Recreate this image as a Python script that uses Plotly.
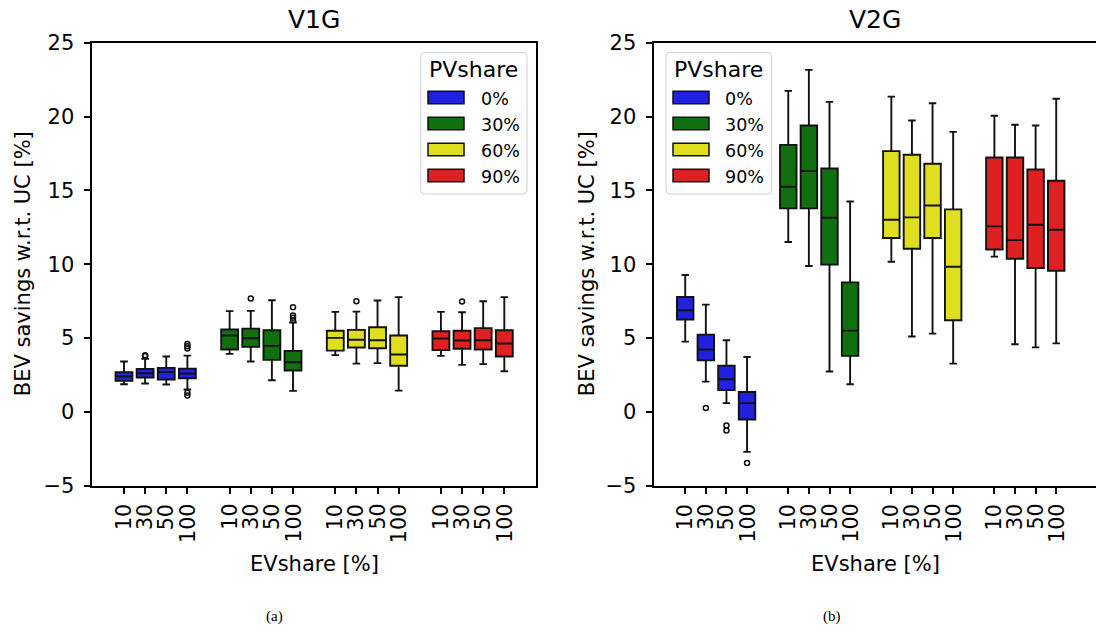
import plotly.graph_objects as go

# ---------------------------------------------------------------- data
EV_SHARES = ["10", "30", "50", "100"]          # tick labels inside each group
PV_SHARES = ["0%", "30%", "60%", "90%"]        # legend entries / groups
COLORS = ["#2020df", "#107010", "#dfdf20", "#df2020"]

# V1G: per PV share, one value per EV share
v1g_q1 = [[2.10, 2.33, 2.19, 2.28], [4.22, 4.40, 3.52, 2.80],
          [4.15, 4.36, 4.31, 3.12], [4.18, 4.27, 4.22, 3.75]]
v1g_med = [[2.39, 2.62, 2.69, 2.60], [5.17, 4.99, 4.47, 3.36],
           [5.01, 4.88, 4.85, 3.88], [4.97, 4.83, 4.85, 4.63]]
v1g_q3 = [[2.69, 2.91, 2.98, 2.93], [5.58, 5.64, 5.53, 4.13],
          [5.49, 5.55, 5.73, 5.17], [5.46, 5.49, 5.67, 5.53]]
v1g_lo = [[1.87, 1.92, 1.85, 1.51], [3.93, 3.41, 2.14, 1.42],
          [3.84, 3.27, 3.30, 1.44], [3.79, 3.18, 3.23, 2.75]]
v1g_hi = [[3.41, 3.59, 3.75, 3.81], [6.82, 6.84, 7.56, 6.05],
          [6.77, 6.79, 7.54, 7.77], [6.77, 6.75, 7.49, 7.77]]
v1g_out = [[[], [3.78, 3.84], [], [4.60, 4.45, 4.29, 1.29, 1.11]],
           [[], [7.67], [], [7.09, 6.52, 6.37, 6.21]],
           [[], [7.49], [], []],
           [[], [7.47], [], []]]

# V2G
v2g_q1 = [[6.25, 3.49, 1.47, -0.52], [13.78, 13.78, 9.97, 3.79],
          [11.77, 11.05, 11.77, 6.20], [11.00, 10.37, 9.74, 9.56]]
v2g_med = [[6.88, 4.22, 2.21, 0.59], [15.24, 16.30, 13.15, 5.50],
           [13.01, 13.17, 13.98, 9.83], [12.56, 11.63, 12.67, 12.33]]
v2g_q3 = [[7.78, 5.23, 3.13, 1.35], [18.08, 19.39, 16.48, 8.77],
          [17.66, 17.41, 16.80, 13.71], [17.23, 17.23, 16.41, 15.65]]
v2g_lo = [[4.76, 2.05, 0.59, -2.71], [11.50, 9.88, 2.73, 1.87],
          [10.17, 5.10, 5.30, 3.27], [10.51, 4.58, 4.37, 4.64]]
v2g_hi = [[9.27, 7.26, 4.85, 3.72], [21.74, 23.16, 20.99, 14.25],
          [21.35, 19.73, 20.90, 18.96], [20.05, 19.44, 19.39, 21.20]]
v2g_out = [[[], [0.27], [-0.92, -1.26], [-3.47]],
           [[], [], [], []],
           [[], [], [], []],
           [[], [], [], []]]

Y_TICKS = [-5, 0, 5, 10, 15, 20, 25]

# ---------------------------------------------------------------- layout helpers
W, H = 1096, 631
FONT = "DejaVu Sans"
EDGE = "#111111"


def px(x):
    return x / W


def py(y):
    return 1 - y / H


def positions(g):
    return [g * 5 + i for i in range(len(EV_SHARES))]


fig = go.Figure()

panels = [
    ("x", "y", v1g_q1, v1g_med, v1g_q3, v1g_lo, v1g_hi, v1g_out),
    ("x2", "y2", v2g_q1, v2g_med, v2g_q3, v2g_lo, v2g_hi, v2g_out),
]

for xa, ya, q1, med, q3, lo, hi, out in panels:
    for g, color in enumerate(COLORS):
        xs = positions(g)
        fig.add_trace(go.Box(
            x=xs, q1=q1[g], median=med[g], q3=q3[g],
            lowerfence=lo[g], upperfence=hi[g],
            width=0.8, whiskerwidth=0.45,
            fillcolor=color, line=dict(color=EDGE, width=1.9),
            boxpoints=False, name=PV_SHARES[g], showlegend=False,
            xaxis=xa, yaxis=ya,
        ))
        fx, fy = [], []
        for i, vals in enumerate(out[g]):
            fx += [xs[i]] * len(vals)
            fy += vals
        if fx:
            fig.add_trace(go.Scatter(
                x=fx, y=fy, mode="markers", showlegend=False,
                marker=dict(symbol="circle-open", size=5, color=EDGE,
                            line=dict(width=1.5, color=EDGE)),
                xaxis=xa, yaxis=ya,
            ))

all_pos = [p for g in range(len(PV_SHARES)) for p in positions(g)]
all_lab = EV_SHARES * len(PV_SHARES)

# tick marks come from the axes; the rotated labels are placed as
# annotations so that they all hang from the same top edge
x_common = dict(
    tickvals=all_pos, showticklabels=False,
    ticks="outside", ticklen=7, tickwidth=1.5, tickcolor="black",
    showline=True, linecolor="black", linewidth=1.5, mirror=True,
    showgrid=False, zeroline=False, automargin=False,
)
y_common = dict(
    range=[-5, 25], tickvals=Y_TICKS,
    ticktext=[str(v).replace("-", "\u2212") for v in Y_TICKS],
    ticks="outside", ticklen=7, tickwidth=1.5, tickcolor="black",
    ticklabelstandoff=5,
    tickfont=dict(family=FONT, size=21, color="black"),
    showline=True, linecolor="black", linewidth=1.5,
    showgrid=False, zeroline=False, automargin=False,
)
y_dom = [py(485.7), py(42.7)]

fig.update_layout(
    width=W, height=H, margin=dict(l=0, r=0, t=0, b=0, pad=0),
    paper_bgcolor="white", plot_bgcolor="white",
    boxmode="overlay", showlegend=False,
    xaxis=dict(domain=[px(92.3), px(536)], range=[-1.5, 19.5],
               anchor="y", **x_common),
    yaxis=dict(domain=y_dom, anchor="x", mirror=True, **y_common),
    xaxis2=dict(domain=[px(654.3), 1.0], range=[-1.5, 19.93],
                anchor="y2", **x_common),
    yaxis2=dict(domain=y_dom, anchor="x2", mirror=False, **y_common),
)

# ---------------------------------------------------------------- text
annotations = []


def text(x, y, s, size, angle=0, family=FONT, xanchor="center"):
    annotations.append(dict(
        x=px(x), y=py(y), xref="paper", yref="paper", text=s,
        showarrow=False, textangle=angle, xanchor=xanchor, yanchor="middle",
        font=dict(family=family, size=size, color="black"),
    ))


for xa in ("x", "x2"):
    for pos, lab in zip(all_pos, all_lab):
        annotations.append(dict(
            x=pos, y=py(503), xref=xa, yref="paper", text=lab,
            showarrow=False, textangle=-90, xanchor="center", yanchor="top",
            borderpad=0, font=dict(family=FONT, size=20.5, color="black"),
        ))

for cx, title, ylab_x in [(314.2, "V1G", 23), (875.0, "V2G", 587)]:
    text(cx, 19.5, title, 25)
    text(ylab_x, 264.2, "BEV savings w.r.t. UC [%]", 21, angle=-90)
    text(cx, 564, "EVshare [%]", 21)

text(274.3, 616.0, "(a)", 15, family="Liberation Serif")
text(831.7, 616.0, "(b)", 15, family="Liberation Serif")

# ---------------------------------------------------------------- legends
shapes = []


def rounded_rect(x0, y0, x1, y1, r=4):
    return (f"M {px(x0 + r)} {py(y0)} L {px(x1 - r)} {py(y0)} "
            f"Q {px(x1)} {py(y0)} {px(x1)} {py(y0 + r)} "
            f"L {px(x1)} {py(y1 - r)} Q {px(x1)} {py(y1)} {px(x1 - r)} {py(y1)} "
            f"L {px(x0 + r)} {py(y1)} Q {px(x0)} {py(y1)} {px(x0)} {py(y1 - r)} "
            f"L {px(x0)} {py(y0 + r)} Q {px(x0)} {py(y0)} {px(x0 + r)} {py(y0)} Z")


def legend(x0, x1, patch_x0, label_x):
    shapes.append(dict(type="path", xref="paper", yref="paper",
                       path=rounded_rect(x0, 52.5, x1, 194),
                       line=dict(color="#d0d0d0", width=1),
                       fillcolor="rgba(255,255,255,0.8)", layer="above"))
    text((x0 + x1) / 2, 70, "PVshare", 22)
    for k, (lab, color) in enumerate(zip(PV_SHARES, COLORS)):
        cy = 97.5 + 26 * k
        shapes.append(dict(type="rect", xref="paper", yref="paper",
                           x0=px(patch_x0), x1=px(patch_x0 + 36),
                           y0=py(cy + 6.3), y1=py(cy - 6.3),
                           fillcolor=color, line=dict(color=EDGE, width=1.5),
                           layer="above"))
        text(label_x, cy + 1.5, lab, 17.5, xanchor="left")


legend(420.7, 527.0, 428.0, 478.5)
legend(666.0, 771.7, 673.0, 722.5)

fig.update_layout(annotations=annotations, shapes=shapes)

fig.write_html("out.html")
